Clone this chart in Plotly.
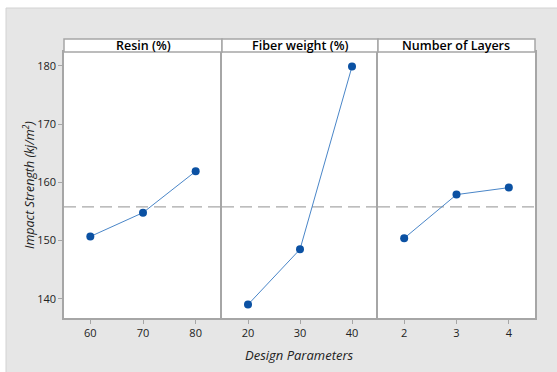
import plotly.graph_objects as go

W, H = 557, 372
panels = ["Resin (%)", "Fiber weight (%)", "Number of Layers"]
levels = [[60, 70, 80], [20, 30, 40], [2, 3, 4]]
values = [[150.7, 154.8, 161.9], [139.0, 148.5, 179.9], [150.4, 157.9, 159.1]]
y_ticks = [140, 150, 160, 170, 180]

all_vals = [v for s in values for v in s]
grand_mean = sum(all_vals) / len(all_vals)

L, R, T, B = 64, 535, 52, 318
pw = R - L
ph = B - T
bounds = [64, 222, 378, 535]
axis_col = "#a6a6a6"
font_fam = "Open Sans, Noto Sans, sans-serif"

fig = go.Figure()
for i in range(3):
    xs = "x" if i == 0 else f"x{i+1}"
    ys = "y" if i == 0 else f"y{i+1}"
    fig.add_trace(go.Scatter(
        x=levels[i], y=values[i], mode="lines+markers", xaxis=xs, yaxis=ys,
        line=dict(color="#4a86c8", width=1),
        marker=dict(color="#0b51a3", size=8), showlegend=False, hoverinfo="x+y"))
    step = levels[i][1] - levels[i][0]
    dom = [(bounds[i] - L) / pw, (bounds[i + 1] - L) / pw]
    xa = dict(domain=dom, range=[levels[i][0] - step / 2, levels[i][-1] + step / 2],
              tickvals=levels[i], ticks="outside", ticklen=4, tickcolor=axis_col,
              showline=True, linecolor=axis_col, linewidth=1.5, mirror=True,
              showgrid=False, zeroline=False, anchor=ys,
              tickfont=dict(family=font_fam, size=11, color="#222"))
    ya = dict(range=[136.7, 182.4], showline=True, linecolor=axis_col, linewidth=1.5,
              mirror=(i == 2), showgrid=False, zeroline=False, anchor=xs, domain=[0, 1])
    if i == 0:
        ya.update(tickvals=y_ticks, ticks="outside", ticklen=4, tickcolor=axis_col,
                  tickfont=dict(family=font_fam, size=11, color="#222"))
    else:
        ya.update(showticklabels=False, ticks="", matches="y")
    fig.layout[("xaxis" if i == 0 else f"xaxis{i+1}")] = xa
    fig.layout[("yaxis" if i == 0 else f"yaxis{i+1}")] = ya
    # mean line
    fig.add_shape(type="line", xref=f"{xs} domain", yref=ys, x0=0, x1=1,
                  y0=grand_mean, y1=grand_mean,
                  line=dict(color="#a8a8a8", width=1.2, dash="12px,6px"), layer="below")
    # strip
    fig.add_shape(type="rect", xref="paper", yref="paper",
                  x0=dom[0], x1=dom[1], y0=1, y1=1 + 13 / ph,
                  fillcolor="white", line=dict(color=axis_col, width=1.5))
    fig.add_annotation(x=(dom[0] + dom[1]) / 2, y=1 + 6.5 / ph, xref="paper", yref="paper",
                       text=panels[i], showarrow=False, xanchor="center", yanchor="middle",
                       font=dict(family=font_fam, size=12.5, color="#000", weight=600))

# white outer margins (top and left) around grey panel
fig.add_shape(type="rect", xref="paper", yref="paper",
              x0=-L / pw - 0.01, x1=(W - L) / pw + 0.01,
              y0=1 + (T - 8) / ph, y1=1 + T / ph + 0.01,
              fillcolor="white", line=dict(width=0))
fig.add_shape(type="rect", xref="paper", yref="paper",
              x0=-L / pw - 0.01, x1=(6 - L) / pw,
              y0=-(H - B) / ph - 0.01, y1=1 + T / ph + 0.01,
              fillcolor="white", line=dict(width=0))
fig.add_shape(type="line", xref="paper", yref="paper",
              x0=(6 - L) / pw, x1=(W - L) / pw + 0.01,
              y0=1 + (T - 8) / ph, y1=1 + (T - 8) / ph,
              line=dict(color="#d2d2d2", width=1))
fig.add_shape(type="line", xref="paper", yref="paper",
              x0=(6 - L) / pw, x1=(6 - L) / pw,
              y0=-(H - B) / ph - 0.01, y1=1 + (T - 8) / ph,
              line=dict(color="#d2d2d2", width=1))

fig.add_annotation(x=(299.5 - L) / pw, y=-(355 - B) / ph, xref="paper", yref="paper",
                   text="<i>Design Parameters</i>", showarrow=False,
                   xanchor="center", yanchor="middle",
                   font=dict(family=font_fam, size=13, color="#222"))
fig.add_annotation(x=(29 - L) / pw, y=0.5, xref="paper", yref="paper",
                   text="<i>Impact Strength (kj/m<sup>2</sup>)</i>", showarrow=False,
                   textangle=-90, xanchor="center", yanchor="middle",
                   font=dict(family=font_fam, size=12.5, color="#222"))

fig.update_layout(width=W, height=H, margin=dict(l=L, r=W - R, t=T, b=H - B),
                  paper_bgcolor="#e6e6e6", plot_bgcolor="white")
fig.write_html("out.html")
